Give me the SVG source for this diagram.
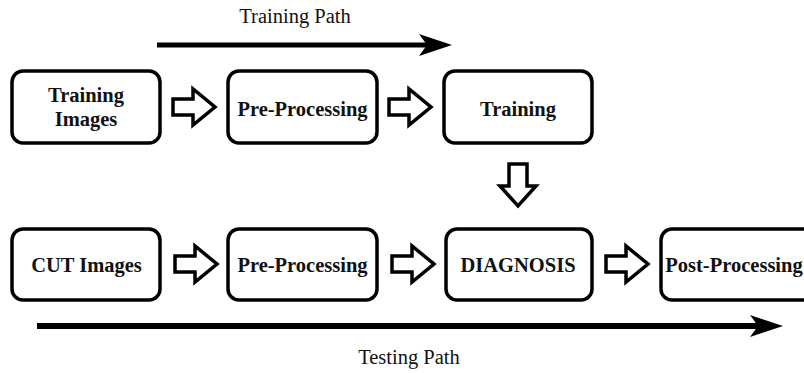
<svg xmlns="http://www.w3.org/2000/svg" width="804" height="373" viewBox="0 0 804 373">
<style>
.box{fill:#fff;stroke:#000;stroke-width:3.5}
.lbl{font-weight:bold;font-size:20.5px;fill:#111;text-anchor:middle}
.path{font-size:20.5px;fill:#111;text-anchor:middle}
.blk{fill:#fff;stroke:#000;stroke-width:3.5;stroke-linejoin:miter}
</style>
<rect width="804" height="373" fill="#fff"/>
<g font-family="Liberation Serif, Times New Roman, DejaVu Serif, serif">
<g id="training-images"><rect class="box" x="12" y="71" width="148" height="72" rx="11"/><text class="lbl" x="86" y="102">Training</text><text class="lbl" x="86" y="126">Images</text></g>
<g id="pre-processing-train"><rect class="box" x="228" y="71" width="149" height="72" rx="11"/><text class="lbl" x="302.5" y="116">Pre-Processing</text></g>
<g id="training"><rect class="box" x="444" y="71" width="148" height="72" rx="11"/><text class="lbl" x="518" y="116">Training</text></g>
<g id="cut-images"><rect class="box" x="12" y="229" width="148" height="71" rx="11"/><text class="lbl" x="86.5" y="272">CUT Images</text></g>
<g id="pre-processing-test"><rect class="box" x="228" y="229" width="149" height="71" rx="11"/><text class="lbl" x="302.5" y="272">Pre-Processing</text></g>
<g id="diagnosis"><rect class="box" x="446" y="229" width="146" height="71" rx="11"/><text class="lbl" x="518" y="272">DIAGNOSIS</text></g>
<g id="post-processing"><rect class="box" x="661" y="229" width="155" height="71" rx="11"/><text class="lbl" x="734" y="272">Post-Processing</text></g>
<g id="connectors">
<path class="blk" d="M173,99 H193 V89 L215,107 L193,125 V115 H173 Z"/>
<path class="blk" d="M389,99 H409 V89 L431,107 L409,125 V115 H389 Z"/>
<path class="blk" d="M175,256 H195 V246 L217,264 L195,282 V272 H175 Z"/>
<path class="blk" d="M392,256 H412 V246 L434,264 L412,282 V272 H392 Z"/>
<path class="blk" d="M606,256 H626 V246 L648,264 L626,282 V272 H606 Z"/>
<path class="blk" d="M509,164 V186 H500 L518,206 L536,186 H527 V164 Z"/>
<line x1="157" y1="45" x2="430" y2="45" stroke="#000" stroke-width="5"/>
<path d="M452,45 L419,34 L427,45 L419,56 Z" fill="#000"/>
<line x1="37" y1="326" x2="760" y2="326" stroke="#000" stroke-width="6"/>
<path d="M783,326 L750,315 L758,326 L750,337 Z" fill="#000"/>
</g>
<text class="path" x="295" y="23">Training Path</text>
<text class="path" x="409" y="364">Testing Path</text>
</g>
</svg>
